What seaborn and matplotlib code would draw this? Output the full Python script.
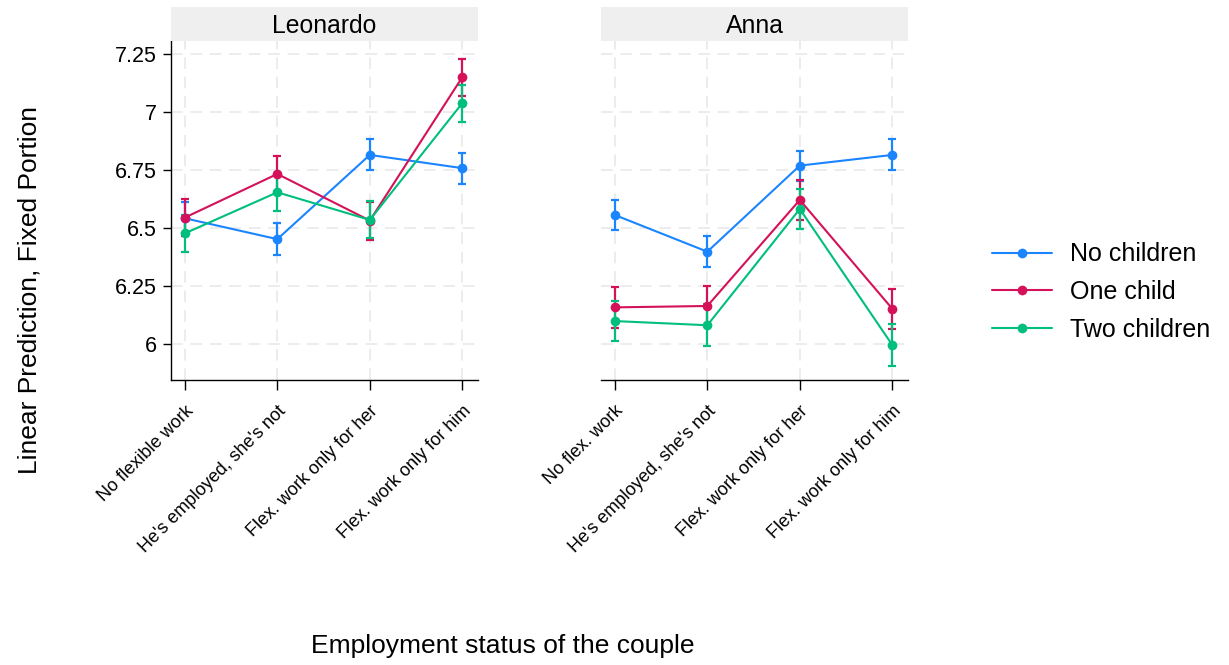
import numpy as np
import pandas as pd
import matplotlib
matplotlib.use("Agg")
import matplotlib.pyplot as plt
from matplotlib.lines import Line2D
import seaborn as sns

# ---------------- data ----------------
panels = ["Leonardo", "Anna"]
groups = ["No children", "One child", "Two children"]
leo_labels = ["No flexible work", "He's employed, she's not",
              "Flex. work only for her", "Flex. work only for him"]
anna_labels = ["No flex. work", "He's employed, she's not",
               "Flex. work only for her", "Flex. work only for him"]

leo_none = [6.543, 6.453, 6.816, 6.759]
leo_one = [6.546, 6.734, 6.533, 7.151]
leo_two = [6.478, 6.655, 6.536, 7.039]
leo_none_ci = [0.068, 0.068, 0.067, 0.067]
leo_one_ci = [0.080, 0.079, 0.082, 0.080]
leo_two_ci = [0.080, 0.080, 0.080, 0.080]

anna_none = [6.557, 6.399, 6.770, 6.816]
anna_one = [6.159, 6.165, 6.622, 6.153]
anna_two = [6.100, 6.082, 6.583, 5.997]
anna_none_ci = [0.065, 0.067, 0.065, 0.067]
anna_one_ci = [0.089, 0.086, 0.086, 0.087]
anna_two_ci = [0.088, 0.090, 0.086, 0.090]

yticks = [6, 6.25, 6.5, 6.75, 7, 7.25]
yticklabels = ["6", "6.25", "6.5", "6.75", "7", "7.25"]

colors = ["#1A85FF", "#D41159", "#00BF7D"]

rows = []
panel_data = {
    "Leonardo": [(leo_none, leo_none_ci), (leo_one, leo_one_ci), (leo_two, leo_two_ci)],
    "Anna": [(anna_none, anna_none_ci), (anna_one, anna_one_ci), (anna_two, anna_two_ci)],
}
for p in panels:
    for g, (vals, cis) in zip(groups, panel_data[p]):
        for i, (v, c) in enumerate(zip(vals, cis)):
            rows.append(dict(panel=p, group=g, pos=i, value=v, ci=c))
df = pd.DataFrame(rows)

# ---------------- style ----------------
sns.set_theme(style="white")
plt.rcParams["font.family"] = ["Liberation Sans", "DejaVu Sans"]
plt.rcParams["text.color"] = "black"
plt.rcParams["axes.labelcolor"] = "black"
plt.rcParams["xtick.color"] = "black"
plt.rcParams["ytick.color"] = "black"

W, H = 1229, 665
fig = plt.figure(figsize=(W / 100, H / 100), dpi=100)

def fx(px):
    return px / W

def fy(px):
    return 1 - px / H

ax_top, ax_bot = 41, 380
strip_top = 7
panel_x = {"Leonardo": (171, 478), "Anna": (601, 908)}
tick_lbls = {"Leonardo": leo_labels, "Anna": anna_labels}

for k, p in enumerate(panels):
    x0, x1 = panel_x[p]
    ax = fig.add_axes([fx(x0), fy(ax_bot), fx(x1) - fx(x0), fy(ax_top) - fy(ax_bot)])
    sub = df[df.panel == p]
    # gridlines
    for yv in yticks:
        ax.axhline(yv, color="#ececec", lw=1.4, ls=(0, (6, 4)), zorder=0)
    for xv in range(4):
        ax.axvline(xv, color="#ececec", lw=1.4, ls=(0, (6, 4)), zorder=0)
    for g, c in zip(groups, colors):
        s = sub[sub.group == g]
        ax.errorbar(s.pos, s.value, yerr=s.ci, fmt="none", ecolor=c,
                    elinewidth=1.6, capsize=3.2, capthick=1.6, zorder=3)
        sns.lineplot(data=s, x="pos", y="value", color=c, marker="o",
                     markersize=7, markeredgewidth=0, linewidth=1.5,
                     ax=ax, legend=False, zorder=4, errorbar=None)
    ax.set_xlim(-0.15, 3.17)
    ax.set_ylim(5.846, 7.307)
    ax.set_xticks(range(4))
    ax.set_xticklabels(tick_lbls[p], rotation=45, ha="right",
                       rotation_mode="anchor", fontsize=13)
    ax.tick_params(axis="x", length=7, width=1, color="black", pad=9,
                   bottom=True)
    ax.set_xlabel("")
    ax.set_ylabel("")
    for sp in ["top", "right"]:
        ax.spines[sp].set_visible(False)
    ax.spines["bottom"].set_color("black")
    ax.spines["bottom"].set_linewidth(1)
    if k == 0:
        ax.set_yticks(yticks)
        ax.set_yticklabels(yticklabels, fontsize=15.5)
        ax.tick_params(axis="y", length=6, width=1, color="black", pad=4, left=True)
        ax.spines["left"].set_color("black")
        ax.spines["left"].set_linewidth(1)
    else:
        ax.set_yticks(yticks)
        ax.set_yticklabels([])
        ax.tick_params(axis="y", length=0, left=False)
        ax.spines["left"].set_visible(False)
    # facet strip
    sax = fig.add_axes([fx(x0), fy(ax_top), fx(x1) - fx(x0), fy(strip_top) - fy(ax_top)])
    sax.set_facecolor("#efefef")
    for sp in sax.spines.values():
        sp.set_visible(False)
    sax.set_xticks([])
    sax.set_yticks([])
    sax.text(0.5, 0.45, p, ha="center", va="center", fontsize=17.8,
             color="black", transform=sax.transAxes)

fig.text(fx(30), fy(290), "Linear Prediction, Fixed Portion", rotation=90,
         ha="center", va="center", fontsize=19, color="black")
fig.text(fx(503), fy(646), "Employment status of the couple",
         ha="center", va="center", fontsize=19, color="black")

handles = [Line2D([0], [0], color=c, lw=1.5, marker="o", markersize=7,
                  markeredgewidth=0) for c in colors]
fig.legend(handles, groups, loc="center left", bbox_to_anchor=(fx(982), fy(292)),
           frameon=False, fontsize=18, handlelength=2.4, handletextpad=0.7,
           labelspacing=0.55, borderaxespad=0, labelcolor="black")

fig.savefig("out.png", dpi=100)
